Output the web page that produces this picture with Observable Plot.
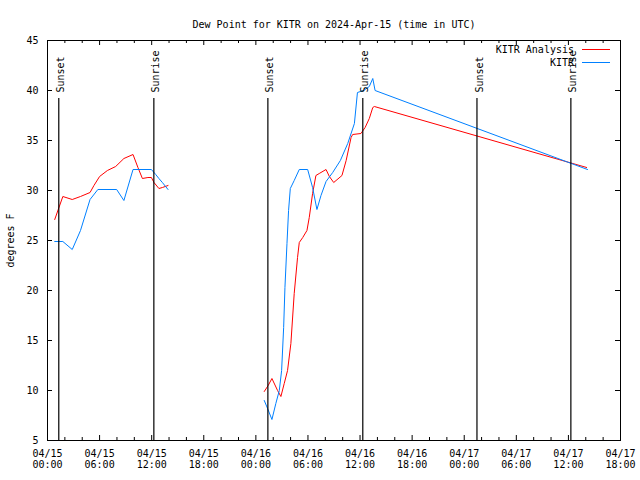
<!DOCTYPE html>
<html><head><meta charset="utf-8">
<style>html,body{margin:0;padding:0;background:#fff} svg{display:block}</style>
<script src="https://cdn.jsdelivr.net/npm/d3@7"></script>
<script src="https://cdn.jsdelivr.net/npm/@observablehq/plot@0.6"></script>
</head><body><div id="chart"></div>
<script>
const title = "Dew Point for KITR on 2024-Apr-15 (time in UTC)";
const yLabel = "degrees F";
const seriesNames = ["KITR Analysis", "KITR"];
const seriesColors = ["#ff0000", "#0080ff"];
const xDomain = ["2024-04-15T00:00", "2024-04-17T18:00"];
const yDomain = [5, 45];
const yTicks = [5, 10, 15, 20, 25, 30, 35, 40, 45];

// KITR Analysis (null = gap in data)
const analysisTimes = [
  "2024-04-15T00:50","2024-04-15T01:46","2024-04-15T02:51","2024-04-15T03:48","2024-04-15T04:54",
  "2024-04-15T05:21","2024-04-15T06:00","2024-04-15T06:54","2024-04-15T07:51","2024-04-15T08:48",
  "2024-04-15T09:51","2024-04-15T10:25","2024-04-15T10:56","2024-04-15T11:34","2024-04-15T11:58",
  "2024-04-15T12:16","2024-04-15T12:50","2024-04-15T13:14","2024-04-15T13:53",
  "2024-04-15T19:00",
  "2024-04-16T00:58","2024-04-16T01:25","2024-04-16T01:51","2024-04-16T02:30","2024-04-16T02:53",
  "2024-04-16T03:16","2024-04-16T03:39","2024-04-16T04:02","2024-04-16T04:25","2024-04-16T04:48",
  "2024-04-16T05:00","2024-04-16T05:24","2024-04-16T05:53","2024-04-16T06:09","2024-04-16T06:32",
  "2024-04-16T06:55","2024-04-16T07:18","2024-04-16T08:05","2024-04-16T08:28","2024-04-16T08:58",
  "2024-04-16T09:55","2024-04-16T10:24","2024-04-16T10:58","2024-04-16T11:09","2024-04-16T12:06",
  "2024-04-16T12:35","2024-04-16T13:04","2024-04-16T13:28","2024-04-16T13:39","2024-04-17T14:06"
];
const analysisValues = [
  27.1, 29.4, 29.1, 29.4, 29.8,
  30.5, 31.4, 32.0, 32.4, 33.2,
  33.6, 32.3, 31.2, 31.3, 31.3,
  30.8, 30.2, 30.3, 30.5,
  null,
  9.9, 10.5, 11.2, 10.0, 9.4,
  10.7, 12.0, 14.7, 19.7, 23.3,
  24.8, 25.3, 26.0, 27.3, 29.7,
  31.5, 31.7, 32.1, 31.4, 30.8,
  31.5, 33.0, 35.3, 35.6, 35.7,
  36.3, 37.2, 38.3, 38.4, 32.3
];

// KITR observations (null = gap in data)
const obsTimes = [
  "2024-04-15T00:50","2024-04-15T01:46","2024-04-15T02:51","2024-04-15T03:48","2024-04-15T04:54",
  "2024-04-15T05:48","2024-04-15T07:58","2024-04-15T08:48","2024-04-15T09:51","2024-04-15T11:58",
  "2024-04-15T12:28","2024-04-15T12:50","2024-04-15T13:14","2024-04-15T13:53",
  "2024-04-15T19:00",
  "2024-04-16T00:58","2024-04-16T01:21","2024-04-16T01:51","2024-04-16T02:18","2024-04-16T02:42",
  "2024-04-16T02:58","2024-04-16T03:12","2024-04-16T03:21","2024-04-16T03:35","2024-04-16T03:46",
  "2024-04-16T03:58","2024-04-16T04:25","2024-04-16T05:00","2024-04-16T05:58","2024-04-16T06:32",
  "2024-04-16T07:02","2024-04-16T07:30","2024-04-16T08:05","2024-04-16T08:51","2024-04-16T09:44",
  "2024-04-16T10:35","2024-04-16T11:21","2024-04-16T11:42","2024-04-16T12:24","2024-04-16T13:04",
  "2024-04-16T13:28","2024-04-16T13:44","2024-04-17T14:12"
];
const obsValues = [
  24.9, 24.9, 24.1, 26.0, 29.1,
  30.1, 30.1, 29.0, 32.1, 32.1,
  31.6, 31.2, 30.8, 30.1,
  null,
  9.0, 8.2, 7.1, 8.7, 10.0,
  12.0, 16.3, 20.3, 24.7, 28.0,
  30.2, 31.0, 32.1, 32.1, 30.3,
  28.1, 29.5, 30.9, 31.8, 33.0,
  34.7, 36.7, 39.8, 40.0, 40.4,
  41.2, 40.0, 32.1
];

const sunTimes = ["2024-04-15T01:18","2024-04-15T12:15","2024-04-16T01:23","2024-04-16T12:19","2024-04-17T01:28","2024-04-17T12:17"];
const sunLabels = ["Sunset","Sunrise","Sunset","Sunrise","Sunset","Sunrise"];

const parse = s => new Date(s + "Z");
const analysis = analysisTimes.map((t, i) => ({t: parse(t), v: analysisValues[i]}));
const obs = obsTimes.map((t, i) => ({t: parse(t), v: obsValues[i]}));
const sun = sunTimes.map((t, i) => ({t: parse(t), label: sunLabels[i]}));
const [x0, x1] = xDomain.map(parse);
const majorX = d3.utcHour.every(6).range(x0, new Date(+x1 + 1));
const minorX = d3.utcHour.every(2).range(x0, new Date(+x1 + 1)).filter(d => d.getUTCHours() % 6 !== 0);
const fmt = d3.utcFormat("%m/%d\n%H:%M");
const font = "'DejaVu Sans Mono', 'Liberation Mono', monospace";

const legend = (index, scales, values, dims) => {
  const g = d3.create("svg:g");
  const xr = dims.width - dims.marginRight;
  seriesNames.forEach((name, i) => {
    const y = dims.marginTop + 9.5 + i * 13;
    g.append("text").attr("x", xr - 46).attr("y", y).attr("dy", "0.32em")
      .attr("text-anchor", "end").attr("fill", "black").text(name);
    g.append("line").attr("x1", xr - 38).attr("x2", xr - 10).attr("y1", y).attr("y2", y)
      .attr("stroke", seriesColors[i]).attr("stroke-width", 1);
  });
  return g.node();
};

const chart = Plot.plot({
  width: 640, height: 480,
  marginLeft: 47, marginRight: 20, marginTop: 40, marginBottom: 40,
  style: {fontFamily: font, fontSize: "10px", background: "white", color: "black", overflow: "visible"},
  x: {type: "utc", domain: [x0, x1]},
  y: {domain: yDomain},
  marks: [
    Plot.line(analysis, {x: "t", y: "v", stroke: seriesColors[0], strokeWidth: 1}),
    Plot.line(obs, {x: "t", y: "v", stroke: seriesColors[1], strokeWidth: 1}),
    Plot.ruleX(sun, {x: "t", insetTop: 58, stroke: "black", strokeWidth: 1.2}),
    Plot.text(sun, {x: "t", text: "label", frameAnchor: "top", dy: 52, dx: -1.5, rotate: -90, textAnchor: "start", fill: "black"}),
    Plot.axisX({ticks: majorX, tickFormat: fmt, tickSize: 0, tickPadding: 8, label: null, lineHeight: 1.15}),
    Plot.axisY({ticks: yTicks, tickSize: 0, tickPadding: 9, label: yLabel, labelAnchor: "center", labelArrow: "none", labelOffset: 41}),
    Plot.ruleX(majorX, {x: d => d, insetTop: 395, stroke: "black"}),
    Plot.ruleX(majorX, {x: d => d, insetBottom: 395, stroke: "black"}),
    Plot.ruleX(minorX, {x: d => d, insetTop: 397, stroke: "black"}),
    Plot.ruleX(minorX, {x: d => d, insetBottom: 397, stroke: "black"}),
    Plot.ruleY(yTicks, {y: d => d, insetRight: 568, stroke: "black"}),
    Plot.ruleY(yTicks, {y: d => d, insetLeft: 568, stroke: "black"}),
    Plot.frame({stroke: "black"}),
    legend,
    Plot.text([title], {frameAnchor: "top", dy: -20, fill: "black"})
  ]
});
document.getElementById("chart").append(chart);
</script>
</body></html>
